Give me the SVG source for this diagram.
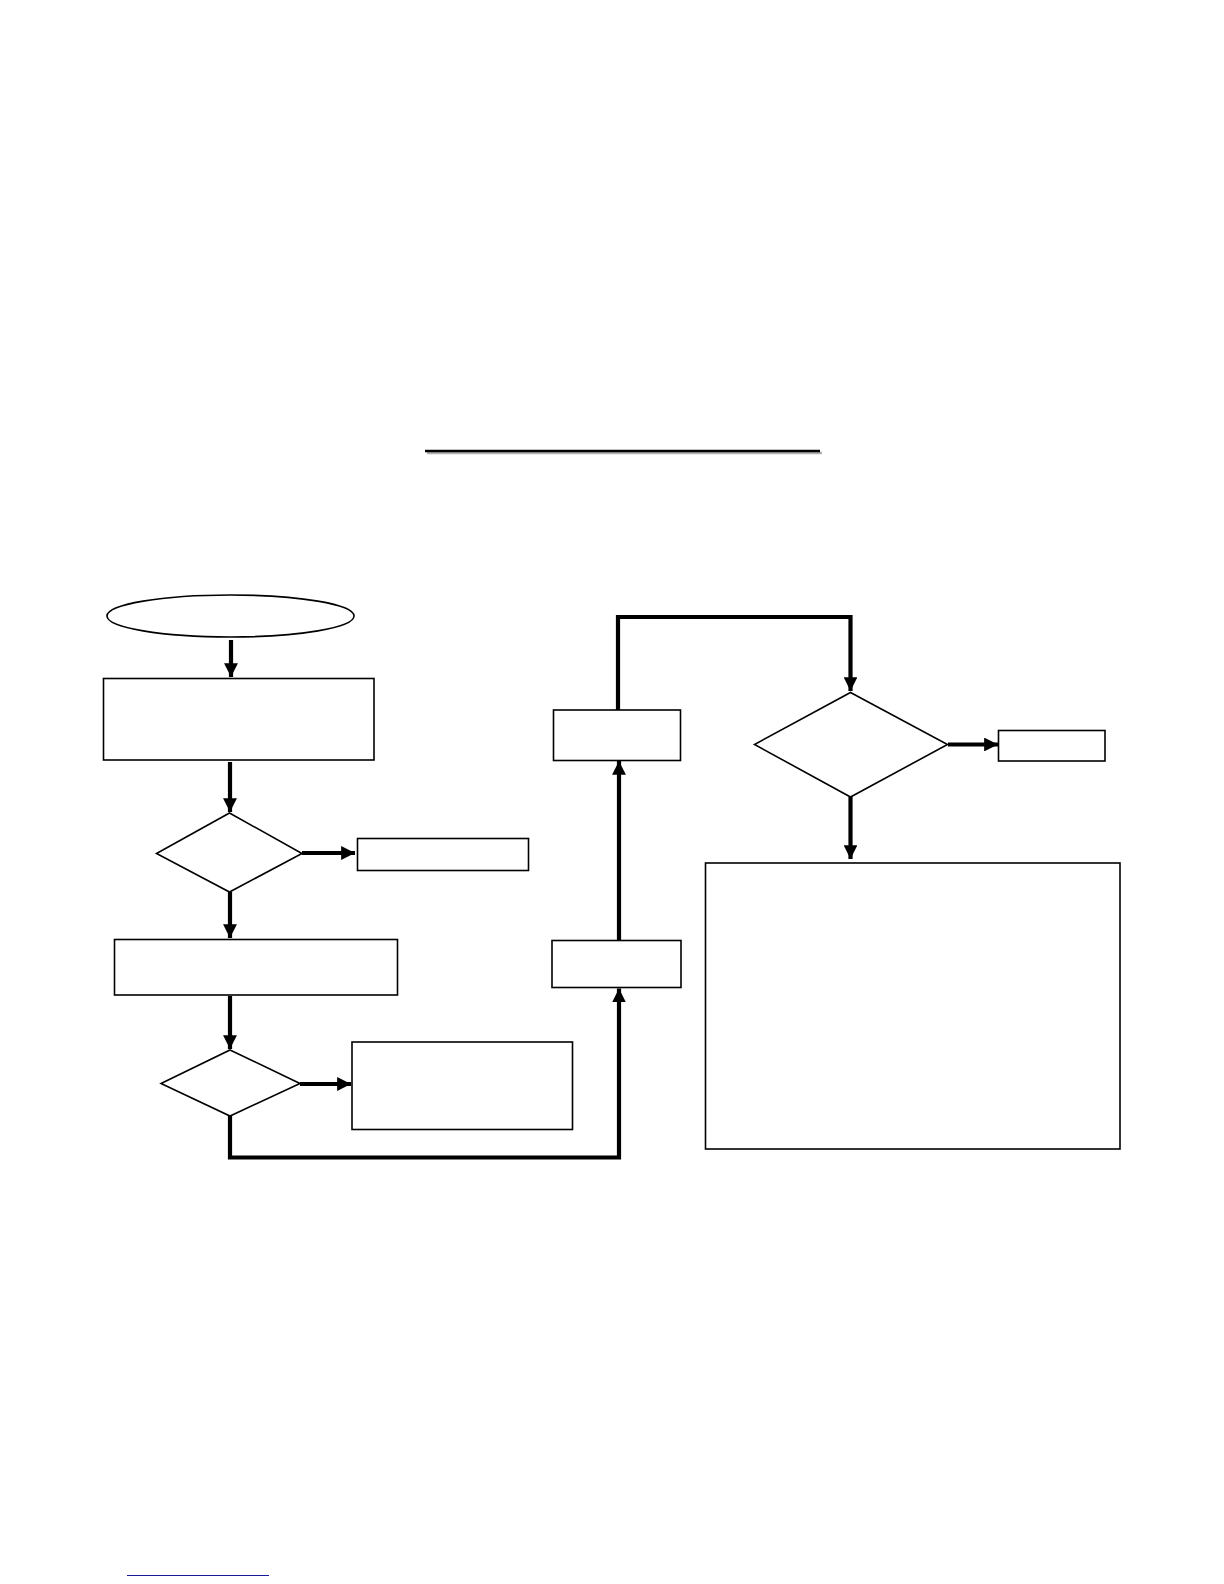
<svg xmlns="http://www.w3.org/2000/svg" width="1224" height="1584" viewBox="0 0 1224 1584">
<style>
.n{fill:#fff;stroke:#000;stroke-width:1.6}
.c{fill:none;stroke:#000;stroke-width:4.2;stroke-linejoin:miter}
</style>
<defs>
<marker id="ah" viewBox="0 0 10 10" refX="10" refY="5" markerWidth="3.3" markerHeight="3.3" orient="auto" markerUnits="strokeWidth">
<path d="M0,0 L10,5 L0,10 Z" fill="#000"/>
</marker>
</defs>
<rect width="1224" height="1584" fill="#fff"/>
<g id="title-rule">
<line x1="427" y1="453" x2="822" y2="453" stroke="#b0b0b0" stroke-width="2.5"/>
<line x1="425" y1="451" x2="820" y2="451" stroke="#000" stroke-width="2.5"/>
</g>
<g id="connectors">
<line class="c" x1="231" y1="640" x2="231" y2="677" marker-end="url(#ah)"/>
<line class="c" x1="230" y1="762" x2="230" y2="812" marker-end="url(#ah)"/>
<line class="c" x1="302" y1="853" x2="355" y2="853" marker-end="url(#ah)"/>
<line class="c" x1="230" y1="892" x2="230" y2="938" marker-end="url(#ah)"/>
<line class="c" x1="230" y1="996" x2="230" y2="1049" marker-end="url(#ah)"/>
<line class="c" x1="300" y1="1084" x2="351" y2="1084" marker-end="url(#ah)"/>
<polyline class="c" points="230,1116 230,1157.5 619,1157.5 619,988.5" marker-end="url(#ah)"/>
<line class="c" x1="619" y1="940" x2="619" y2="761" marker-end="url(#ah)"/>
<polyline class="c" points="618,710 618,617 850.5,617 850.5,691" marker-end="url(#ah)"/>
<line class="c" x1="948" y1="744.5" x2="998" y2="744.5" marker-end="url(#ah)"/>
<line class="c" x1="850.5" y1="797" x2="850.5" y2="859" marker-end="url(#ah)"/>
</g>
<g id="start"><ellipse class="n" cx="230.5" cy="616" rx="123.5" ry="21"/></g>
<g id="box1"><rect class="n" x="103.5" y="678.5" width="270.5" height="81.5"/></g>
<g id="decision1"><polygon class="n" points="229.5,813 302,853.5 229.5,892 156.5,853.5"/></g>
<g id="box2"><rect class="n" x="357.5" y="838.5" width="171" height="32"/></g>
<g id="box3"><rect class="n" x="114.5" y="939.5" width="283" height="55.5"/></g>
<g id="decision2"><polygon class="n" points="230,1050 300,1083.5 230,1116 161,1083.5"/></g>
<g id="box4"><rect class="n" x="352" y="1042" width="220.5" height="87.5"/></g>
<g id="box5"><rect class="n" x="552" y="940.5" width="129" height="47"/></g>
<g id="box6"><rect class="n" x="553.5" y="710" width="127" height="50.5"/></g>
<g id="decision3"><polygon class="n" points="850.5,692.5 947.5,744.5 850.5,797 754.5,744.5"/></g>
<g id="box7"><rect class="n" x="998.5" y="730.5" width="106.5" height="30.5"/></g>
<g id="box8"><rect class="n" x="705.5" y="863" width="414.5" height="286"/></g>
<g id="footer-rule"><line x1="127" y1="1575.5" x2="269" y2="1575.5" stroke="#1a1aa0" stroke-width="1.2"/></g>
</svg>
